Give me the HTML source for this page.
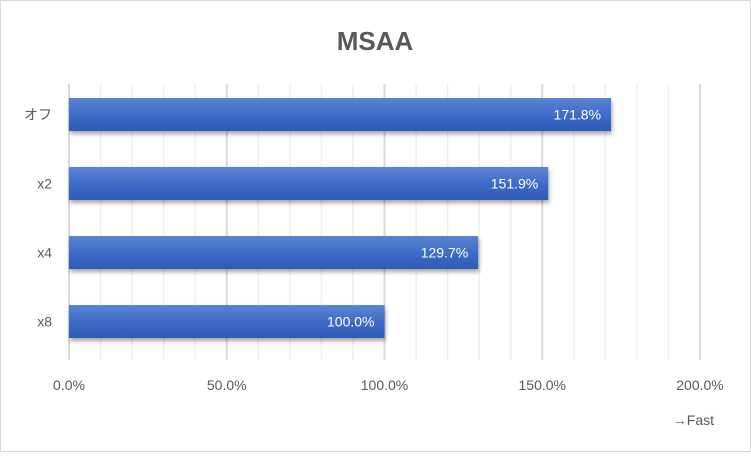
<!DOCTYPE html>
<html><head><meta charset="utf-8"><style>
body{margin:0;background:#fff}
svg text{font-family:"Liberation Sans","Noto Sans CJK JP",sans-serif}
</style></head><body>
<svg width="751" height="452">
<defs>
<linearGradient id="g" x1="0" y1="0" x2="0" y2="1">
<stop offset="0" stop-color="#5b84d0"/><stop offset="0.5" stop-color="#3f6cc8"/><stop offset="1" stop-color="#2d5ab5"/>
</linearGradient>
<filter id="sh" x="-5%" y="-20%" width="110%" height="160%"><feDropShadow dx="1" dy="3" stdDeviation="2" flood-color="#000" flood-opacity="0.35"/></filter>
</defs>
<rect x="0.5" y="0.5" width="750" height="451" fill="#fff" stroke="#d9d9d9"/>
<text x="375" y="50" text-anchor="middle" font-size="26" font-weight="bold" fill="#595959">MSAA</text>
<g id="grid"></g>
<g id="bars"></g>
<g id="labels"></g>
<text x="714" y="425" text-anchor="end" font-size="14" fill="#595959">→Fast</text>
</svg>
<script>
const categories=["オフ","x2","x4","x8"];
const values=[171.8,151.9,129.7,100.0];
const tickLabels=["0.0%","50.0%","100.0%","150.0%","200.0%"];
const tickValues=[0,50,100,150,200];
const ns="http://www.w3.org/2000/svg";
const x0=69,x1=700,maxV=200,plotTop=84,plotBottom=360;
const xs=v=>x0+(v/maxV)*(x1-x0);
const band=(plotBottom-plotTop)/categories.length;
const yc=i=>plotTop+band*i+band/2-4;
function mk(t,a,p){const e=document.createElementNS(ns,t);for(const k in a)e.setAttribute(k,a[k]);p.appendChild(e);return e;}
const grid=document.getElementById('grid'),bars=document.getElementById('bars'),labels=document.getElementById('labels');
for(let v=0;v<=maxV;v+=10){
 const major=v%50===0;
 const l=mk('line',{x1:xs(v),x2:xs(v),y1:plotTop,y2:plotBottom,stroke:major?'#d9d9d9':'#f0f0f0','stroke-width':major?2:1.5},grid);
 
 
}
tickValues.forEach((v,i)=>{
 const t=mk('text',{x:xs(v),y:390,'text-anchor':'middle','font-size':14,fill:'#595959'},labels);
 t.textContent=tickLabels[i];
 
 
});
categories.forEach((c,i)=>{
 const y=yc(i),h=33;
 const r=mk('rect',{x:x0,y:y-h/2,width:xs(values[i])-x0,height:h,fill:'url(#g)',filter:'url(#sh)'},bars);
 
 
 const t=mk('text',{x:xs(values[i])-10,y:y+5,'text-anchor':'end','font-size':14,fill:'#fff'},labels);
 t.textContent=values[i].toFixed(1)+'%';
 
 
 const cl=mk('text',{x:52,y:y+5,'text-anchor':'end','font-size':14,fill:'#595959'},labels);
 cl.textContent=c;
 
 
});
</script>
</body></html>
